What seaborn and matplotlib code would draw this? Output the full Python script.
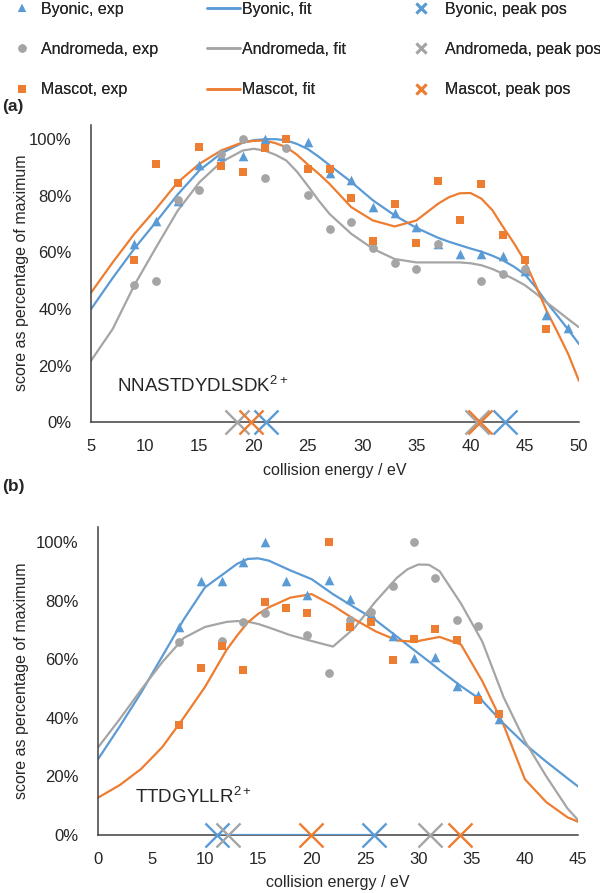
import matplotlib
matplotlib.use("Agg")
from matplotlib import pyplot as plt
from matplotlib.lines import Line2D
from matplotlib.ticker import PercentFormatter
import seaborn as sns

BLUE = "#5B9BD5"
GRAY = "#A5A5A5"
ORANGE = "#ED7D31"
AXIS = "#404040"

# ---- panel (a): NNASTDYDLSDK 2+ ----
a_byonic_x = [9, 11, 13, 15, 17, 19, 21, 25, 27, 29, 31, 33, 35, 37, 39, 41, 43, 45, 47, 49]
a_byonic_y = [63, 71, 78, 91, 94, 94, 100, 99, 88, 85.5, 76, 74, 69, 63, 59.5, 59.3, 58.7, 53.5, 38, 33.5]
a_andromeda_x = [9, 11, 13, 15, 17, 19, 21, 23, 25, 27, 29, 31, 33, 35, 37, 41, 43, 45]
a_andromeda_y = [48.7, 50, 78.4, 82, 94.9, 100, 86.2, 96.9, 80.3, 68.2, 70.6, 61.7, 56.4, 54.3, 63.1, 49.8, 52.3, 54.2]
a_mascot_x = [9, 11, 13, 15, 17, 19, 21, 23, 25, 27, 29, 31, 33, 35, 37, 39, 41, 43, 45, 47]
a_mascot_y = [57.5, 91.4, 84.6, 97.3, 90.6, 88.4, 96.9, 100, 89.6, 89.6, 79.3, 64, 77, 63.5, 85.3, 71.6, 84.2, 66.1, 57.2, 33]

a_fit_x = [5, 7, 9, 11, 13, 15, 17, 19, 20, 21, 22, 23, 24, 25, 26, 27, 29, 31, 33, 35, 37, 38, 39, 40,
           41, 42, 43, 44, 45, 46, 47, 48, 49, 50]
a_byonic_fit = [40, 51, 61.4, 70.8, 80.5, 89, 95, 98.8, 99.6, 100, 100, 99.6, 98.3, 96.5, 93.8, 90.8,
                84.9, 78.4, 73.1, 68.7, 65.2, 63.8, 62.6, 61.4, 60.3, 58.9, 57.2, 55, 52.3, 47.8, 42.5,
                37.7, 32.8, 27.7]
a_andromeda_fit = [21.8, 33, 48.5, 61.8, 74.8, 84.8, 91.9, 96, 96.6, 96, 94.5, 92.5, 88.5, 83.5, 78.3,
                   73.6, 66.6, 61.3, 57.7, 56.5, 56.5, 56.5, 56.5, 56.2, 55.5, 54.2, 52.5, 50.6, 48.5,
                   45.6, 42.4, 39.5, 36.5, 33.6]
a_mascot_fit = [45.8, 56.5, 66.6, 75.4, 84.8, 91.3, 96, 98.9, 99.4, 99.5, 98.6, 97.2, 94.5, 91, 87.8,
                84.2, 76, 71.3, 69.2, 71.3, 77.2, 79.5, 80.9, 81, 79, 75, 69, 63.3, 57, 48.5, 39.5,
                32, 24.2, 14.7]

a_peak_byonic = [21.1, 43.2]
a_peak_andromeda = [18.5, 40.6]
a_peak_mascot = [19.8, 40.9]

# ---- panel (b): TTDGYLLR 2+ ----
b_x = [7.6, 9.6, 11.6, 13.6, 15.6, 17.6, 19.6, 21.6, 23.6, 25.6, 27.6, 29.6, 31.6, 33.6, 35.6, 37.6]
b_byonic_y = [71.1, 86.7, 86.7, 93.3, 100, 86.7, 81.9, 87.0, 80.4, 75.3, 68.0, 60.3, 60.9, 50.9, 47.8, 39.5]
b_andromeda_x = [7.6, 11.6, 13.6, 15.6, 19.6, 21.6, 23.6, 25.6, 27.6, 29.6, 31.6, 33.6, 35.6]
b_andromeda_y = [66.0, 66.3, 72.6, 75.9, 68.3, 55.2, 73.4, 76.2, 85.1, 100, 87.8, 73.4, 71.4]
b_mascot_y = [37.5, 57.1, 64.4, 56.2, 79.4, 77.6, 75.9, 100, 70.9, 72.6, 59.7, 66.9, 70.2, 66.6, 46.1, 41.2]

b_fit_x = [0, 2, 4, 6, 8, 10, 12, 13, 14, 15, 16, 18, 20, 22, 24, 26, 28, 29, 30, 31, 32, 34, 36, 38,
           40, 42, 44, 45]
b_byonic_fit = [26, 37, 48.5, 61, 73.5, 84.5, 89.8, 92.5, 94.2, 94.4, 93.6, 90.3, 87.3, 82.2, 77.7, 73.3,
                67.7, 64.8, 62, 59.2, 56.3, 50.8, 45.8, 38, 31, 25, 19.3, 16.5]
b_andromeda_fit = [30, 39.5, 49.5, 59, 67.2, 71, 72.7, 73, 72.8, 72, 70.8, 68.2, 66.2, 64.3, 70.6, 79.7,
                   87.8, 90.7, 92.3, 92.2, 90, 79, 66, 47, 32, 20, 9, 5]
b_mascot_fit = [12.8, 17, 22.5, 30, 40, 50.5, 63, 68, 72.5, 75.5, 77.7, 81, 82.2, 78.3, 73.6, 69.5,
                66.4, 66.1, 66.2, 66.9, 67.6, 65, 52.5, 37.5, 19, 11.2, 6, 4.5]

b_peak_byonic = [11.1, 25.8]
b_peak_andromeda = [12.2, 31.1]
b_peak_mascot = [19.9, 33.9]

sns.set_theme(style="white")
plt.rcParams["font.family"] = ["Liberation Sans", "DejaVu Sans"]
plt.rcParams["mathtext.fontset"] = "custom"
plt.rcParams["mathtext.rm"] = "Liberation Sans"
plt.rcParams["text.color"] = "#262626"

fig = plt.figure(figsize=(6, 8.93), dpi=100)
ax_a = fig.add_axes([91 / 600, 1 - 422.5 / 893, 488 / 600, 297.5 / 893])
ax_b = fig.add_axes([98.3 / 600, 1 - 835 / 893, 480 / 600, 307.7 / 893])


def draw_panel(ax, fit_x, fits, exp, peaks, xlim, xstep, label, label_xy):
    for fy, col in zip(fits, [BLUE, GRAY, ORANGE]):
        sns.lineplot(x=fit_x, y=fy, ax=ax, color=col, linewidth=1.6, zorder=2)
    for (ex, ey), col, mk, size in zip(exp, [BLUE, GRAY, ORANGE], ["^", "o", "s"], [48, 40, 38]):
        sns.scatterplot(x=ex, y=ey, ax=ax, color=col, marker=mk, s=size, linewidth=0, zorder=3)
    for px, col in zip(peaks, [BLUE, GRAY, ORANGE]):
        sns.scatterplot(x=px, y=[0] * len(px), ax=ax, color=col, marker="x", s=300,
                        linewidth=1.7, zorder=5, clip_on=False)
    ax.set_xlim(*xlim)
    ax.set_ylim(0, 105)
    ax.set_xticks(range(xlim[0], xlim[1] + 1, xstep))
    ax.set_yticks(range(0, 101, 20))
    ax.yaxis.set_major_formatter(PercentFormatter(100, decimals=0))
    ax.tick_params(axis="both", direction="out", length=5, width=1, color=AXIS,
                   labelsize=12, labelcolor="#262626", pad=7)
    ax.tick_params(axis="y", pad=9)
    for side in ["top", "right"]:
        ax.spines[side].set_visible(False)
    for side in ["left", "bottom"]:
        ax.spines[side].set_color(AXIS)
        ax.spines[side].set_linewidth(1.1)
    ax.set_xlabel("")
    ax.set_ylabel("")
    ax.text(*label_xy, label, fontsize=13.5, ha="left", va="center")


draw_panel(ax_a, a_fit_x, [a_byonic_fit, a_andromeda_fit, a_mascot_fit],
           [(a_byonic_x, a_byonic_y), (a_andromeda_x, a_andromeda_y), (a_mascot_x, a_mascot_y)],
           [a_peak_byonic, a_peak_andromeda, a_peak_mascot], (5, 50), 5,
           "NNASTDYDLSDK$^{2+}$", (7.4, 13))
draw_panel(ax_b, b_fit_x, [b_byonic_fit, b_andromeda_fit, b_mascot_fit],
           [(b_x, b_byonic_y), (b_andromeda_x, b_andromeda_y), (b_x, b_mascot_y)],
           [b_peak_byonic, b_peak_andromeda, b_peak_mascot], (0, 45), 5,
           "TTDGYLLR$^{2+}$", (3.4, 13))
# byonic peak positions in (b) are joined along the axis
sns.lineplot(x=b_peak_byonic, y=[0, 0], ax=ax_b, color=BLUE, linewidth=1.6, zorder=4)
ax_b.set_ylim(0, 105)

# axis titles and panel letters
for yc, xc in [(470, 335), (882, 338)]:
    fig.text(xc / 600, 1 - yc / 893, "collision energy / eV", fontsize=11.5, ha="center", va="center")
for yc in [273, 681]:
    fig.text(22 / 600, 1 - yc / 893, "score as percentage of maximum", fontsize=11.5,
             rotation=90, ha="center", va="center")
fig.text(2 / 600, 1 - 106 / 893, "(a)", fontsize=12.5, weight="bold", ha="left", va="center")
fig.text(2 / 600, 1 - 487 / 893, "(b)", fontsize=12.5, weight="bold", ha="left", va="center")

# legend in three columns
exp_handles = [Line2D([], [], ls="none", marker=m, ms=6, color=c, mew=0)
               for m, c in zip(["^", "o", "s"], [BLUE, GRAY, ORANGE])]
fit_handles = [Line2D([], [], color=c, lw=1.8) for c in [BLUE, GRAY, ORANGE]]
peak_handles = [Line2D([], [], ls="none", marker="x", ms=7, mew=2, color=c)
                for c in [BLUE, GRAY, ORANGE]]
names = ["Byonic", "Andromeda", "Mascot"]
columns = [
    (exp_handles, [f"{n}, exp" for n in names], 5.5, 0.1),
    (fit_handles, [f"{n}, fit" for n in names], 206.5, 0.1),
    (peak_handles, [f"{n}, peak pos" for n in names], 404.5, 0.45),
]
for handles, labels, x0, pad in columns:
    leg = fig.legend(handles, labels, loc="upper left", bbox_to_anchor=(x0 / 600, 1 - 2 / 893),
                     frameon=False, fontsize=11.5, handlelength=2.1, handletextpad=pad,
                     labelspacing=1.57, borderpad=0, borderaxespad=0)
    fig.add_artist(leg)

fig.savefig("out.png", dpi=100)
